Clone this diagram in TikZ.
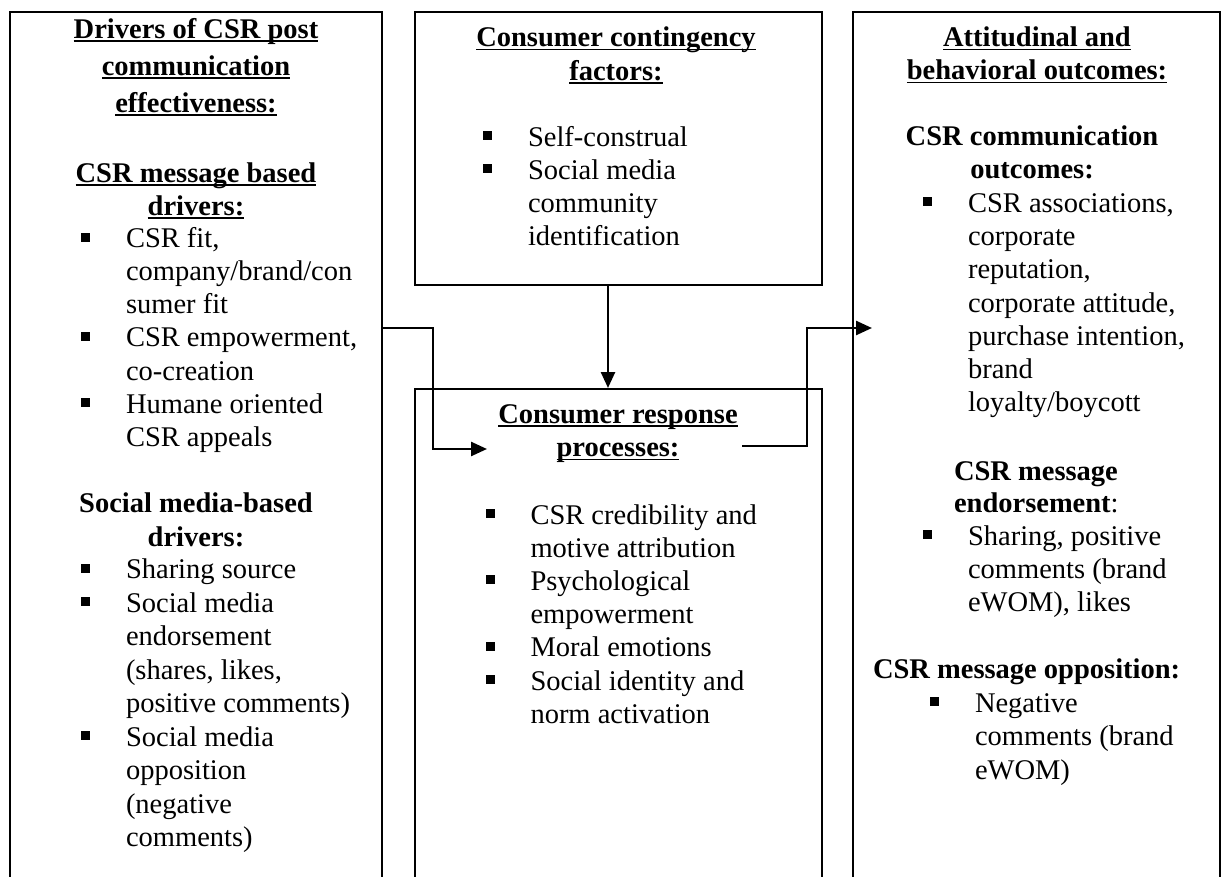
\documentclass[tikz,border=0pt]{standalone}
\usepackage{fontspec}
\setmainfont{Liberation Serif}
\usetikzlibrary{arrows.meta}
\newsavebox\ulbox
\newcommand\uln[1]{\sbox\ulbox{#1}\rlap{\rule[-3.5pt]{\wd\ulbox}{1.5pt}}\usebox\ulbox}
\newcommand\bu{\llap{\rule[6pt]{9pt}{9pt}\hspace{36pt}}}
\tikzset{
  box/.style={draw, line width=2pt, rectangle, inner sep=0pt, anchor=north west},
  txt/.style={inner sep=0pt, outer sep=0pt, font=\fontsize{28.5}{33}\selectfont, anchor=base west},
  hd/.style={inner sep=0pt, outer sep=0pt, font=\fontsize{28.5}{33}\selectfont\bfseries, anchor=base},
  arr/.style={line width=2.5pt, -{Triangle[length=16pt,width=14pt]}}
}
\begin{document}
\begin{tikzpicture}[x=1pt,y=-1pt]
\useasboundingbox (0,0) rectangle (1221,877);
\clip (0,0) rectangle (1221,877);
% boxes
\node[box, minimum width=372pt, minimum height=920pt] (L) at (9,11) {};
\node[box, minimum width=407pt, minimum height=273pt] (T) at (414,11) {};
\node[box, minimum width=407pt, minimum height=540pt] (B) at (414,388) {};
\node[box, minimum width=367pt, minimum height=920pt] (R) at (852,11) {};
% left box
\node[hd] (LH1) at (196,38.5) {\uln{Drivers of CSR post}};
\node[hd] (LH2) at (196,75.5) {\uln{communication}};
\node[hd] (LH3) at (196,112.5) {\uln{effectiveness:}};
\node[hd] (LH4) at (196,182.5) {\uln{CSR message based}};
\node[hd] (LH5) at (196,215.5) {\uln{drivers:}};
\foreach \t [count=\i from 0] in {{\bu CSR fit,},{company/brand/con},{sumer fit},{\bu CSR empowerment,},{co-creation},{\bu Humane oriented},{CSR appeals}}
  \node[txt] (LA\i) at (126,{248+\i*33}) {\t};
\node[hd] (LH6) at (196,512.5) {Social media-based};
\node[hd] (LH7) at (196,546) {drivers:};
\foreach \t [count=\i from 0] in {{\bu Sharing source},{\bu Social media},{endorsement},{(shares, likes,},{positive comments)},{\bu Social media},{opposition},{(negative},{comments)}}
  \node[txt] (LB\i) at (126,{578.5+\i*33.5}) {\t};
% middle top box
\node[hd] (TH1) at (616,47) {\uln{Consumer contingency}};
\node[hd] (TH2) at (616,80.5) {\uln{factors:}};
\foreach \t [count=\i from 0] in {{\bu Self-construal},{\bu Social media},{community},{identification}}
  \node[txt] (TA\i) at (528,{146.5+\i*33}) {\t};
% middle bottom box
\node[hd] (BH1) at (618,423) {\uln{Consumer response}};
\node[hd] (BH2) at (618,456.5) {\uln{processes:}};
\foreach \t [count=\i from 0] in {{\bu CSR credibility and},{motive attribution},{\bu Psychological},{empowerment},{\bu Moral emotions},{\bu Social identity and},{norm activation}}
  \node[txt] (BA\i) at (530.5,{524+\i*33.2}) {\t};
% right box
\node[hd] (RH1) at (1037,47) {\uln{Attitudinal and}};
\node[hd] (RH2) at (1037,80) {\uln{behavioral outcomes:}};
\node[hd] (RH3) at (1032,146) {CSR communication};
\node[hd] (RH4) at (1032,179) {outcomes:};
\foreach \t [count=\i from 0] in {{\bu CSR associations,},{corporate},{reputation,},{corporate attitude,},{purchase intention,},{brand},{loyalty/boycott}}
  \node[txt] (RA\i) at (968,{212.5+\i*33.2}) {\t};
\node[txt] (RH5) at (954,480) {\bfseries CSR message};
\node[txt] (RH6) at (954,512) {\textbf{endorsement}:};
\foreach \t [count=\i from 0] in {{\bu Sharing, positive},{comments (brand},{eWOM), likes}}
  \node[txt] (RB\i) at (968,{545+\i*33.2}) {\t};
\node[txt] (RH7) at (873,678) {\bfseries CSR message opposition:};
\foreach \t [count=\i from 0] in {{\bu Negative},{comments (brand},{eWOM)}}
  \node[txt] (RC\i) at (975,{712+\i*33.5}) {\t};
% connectors
\coordinate (a1m) at (433,328);
\coordinate (a1e) at (487,449);
\draw[arr] (a1m -| L.east) -- (a1m) |- (a1e);
\coordinate (a2) at (608,300);
\draw[arr] (a2 |- T.south) -- (a2 |- B.north);
\coordinate (a3s) at (742,446);
\coordinate (a3t) at (807,446);
\coordinate (a3e) at (872,328);
\draw[arr] (a3s) -- (a3t) |- (a3e);
\end{tikzpicture}
\end{document}
